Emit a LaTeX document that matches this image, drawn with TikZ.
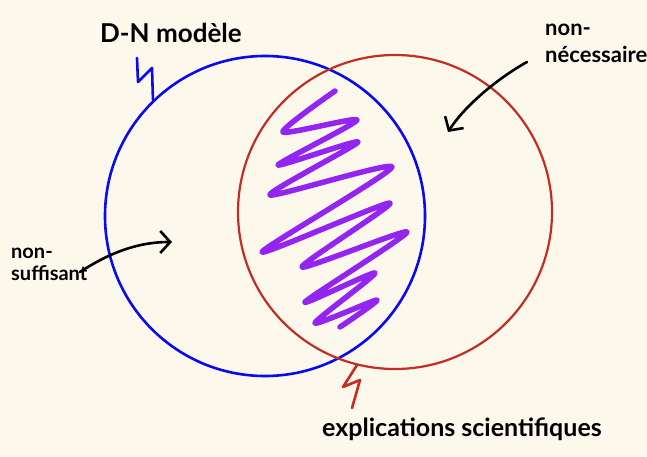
\documentclass[tikz,border=0pt]{standalone}
\usepackage{fontspec}
\setmainfont{Lato}
\usetikzlibrary{arrows.meta}
\definecolor{bg}{RGB}{252,249,236}
\definecolor{dnblue}{RGB}{10,10,240}
\definecolor{exred}{RGB}{195,45,35}
\definecolor{zz}{RGB}{148,36,242}
\tikzset{
  ring/.style={circle, draw, inner sep=0pt},
  lbl/.style={anchor=base west, inner sep=0pt, align=left, text=black},
  pointer/.style={draw=black, line width=2.6pt, line cap=round, -{Straight Barb[length=10pt,width=22pt,line width=2.6pt]}},
  zigzag/.style={line width=2.6pt, line cap=round, line join=round}
}
\begin{document}
\begin{tikzpicture}[x=1pt,y=-1pt]
\fill[bg] (0,0) rectangle (647,457);
\useasboundingbox (0,0) rectangle (647,457);

\node[ring, draw=dnblue, line width=2.6pt, minimum size=320pt] (dn) at (265,216) {};
\node[ring, draw=exred, line width=2.2pt, minimum size=314pt] (ex) at (395,212) {};

\draw[zz, line width=5.5pt, line cap=round, line join=round]
  plot[smooth, tension=0.4] coordinates {(335,91) (283,132) (357,120) (278,165) (358,142) (270,195) (392,167) (262,252) (390,203) (302,267) (407,232) (305,302) (375,273) (315,323) (377,300) (340,327)};

\node[lbl, font=\bfseries\fontsize{26}{30}\selectfont] (dnl) at (100,43) {D-N modèle};
\node[lbl, font=\bfseries\fontsize{22}{27}\selectfont] (necl) at (545,63) {non-\\nécessaire};
\node[lbl, font=\bfseries\fontsize{20}{22}\selectfont] (sufl) at (11,280) {non-\\suffisant};
\node[lbl, font=\bfseries\fontsize{25}{26}\selectfont] (exl) at (322,436) {explications scientifiques};

\coordinate (dnt) at (137,58);
\draw[zigzag, dnblue] (dn.134) -- (152,68) -- (138,82) -- (dnt);
\coordinate (ext) at (352,408);
\draw[zigzag, exred] (ex.256) -- (343,387) -- (360,380) -- (ext);

\coordinate (a1s) at (527,62);
\coordinate (a1e) at (448,132);
\draw[pointer] (a1s) .. controls (500,77) and (466,104) .. (a1e);
\coordinate (a2s) at (80,272);
\coordinate (a2e) at (172,242);
\draw[pointer] (a2s) .. controls (106,255) and (135,242) .. (a2e);
\end{tikzpicture}
\end{document}
